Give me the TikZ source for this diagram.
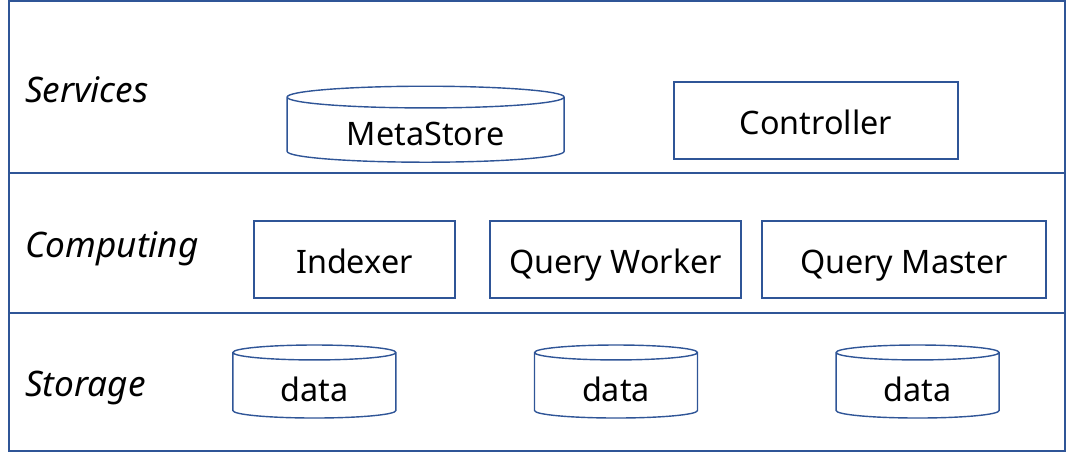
\documentclass[tikz,border=0pt]{standalone}
\usepackage{fontspec}
\setmainfont{Noto Sans}
\usepackage{tikz}
\usetikzlibrary{shapes.geometric, positioning}
\definecolor{cFrame}{RGB}{47,85,151}
\tikzset{
	layer/.style   ={rectangle, draw=cFrame, line width=1.3pt, minimum width=26.4cm, anchor=north west, inner sep=0pt, outer sep=0pt},
	lname/.style   ={anchor=west, font=\fontsize{25}{29}\selectfont\itshape},
	comp/.style    ={rectangle, draw=cFrame, line width=1pt, minimum height=1.925cm, align=center, text height=0.9cm, text depth=0.2cm},
	store/.style   ={cylinder, shape border rotate=90, draw=cFrame, line width=1pt, inner sep=0pt, text height=0.8cm, text depth=0cm},
}

\begin{document}
\begin{tikzpicture}[every node/.style={font=\fontsize{23}{27}\selectfont}]
	\useasboundingbox (0,0) rectangle (26.7,11.35);
	% layers
	\node[layer, minimum height=4.3cm] (svc) at (0.225,11.325) {};
	\node[layer, minimum height=3.5cm, below=0pt of svc.south west, anchor=north west] (cmp) {};
	\node[layer, minimum height=3.45cm, below=0pt of cmp.south west, anchor=north west] (sto) {};
	\node[lname] (lsvc) at ([xshift=0.28cm, yshift=-0.08cm]svc.west) {Services};
	\node[lname] (lcmp) at ([xshift=0.28cm, yshift=-0.14cm]cmp.west) {Computing};
	\node[lname] (lsto) at ([xshift=0.28cm, yshift=-0.14cm]sto.west) {Storage};
	% services
	\node[store, minimum width=6.925cm, minimum height=1.9cm, aspect=0.138] (meta) at (10.64,8.1) {MetaStore};
	\node[comp, minimum width=7.1cm] (ctrl) at (20.4,8.34) {Controller};
	% computing
	\node[comp, minimum width=5.025cm] (idx) at (8.86,4.86) {Indexer};
	\node[comp, minimum width=6.275cm] (qw) at (15.39,4.86) {Query Worker};
	\node[comp, minimum width=7.1cm] (qm) at (22.6,4.86) {Query Master};
	% storage
	\node[store, minimum width=4.075cm, minimum height=1.825cm, aspect=0.22] (d1) at (7.86,1.71) {data};
	\node[store, minimum width=4.075cm, minimum height=1.825cm, aspect=0.22] (d2) at (15.4,1.71) {data};
	\node[store, minimum width=4.075cm, minimum height=1.825cm, aspect=0.22] (d3) at (22.94,1.71) {data};
\end{tikzpicture}
\end{document}
